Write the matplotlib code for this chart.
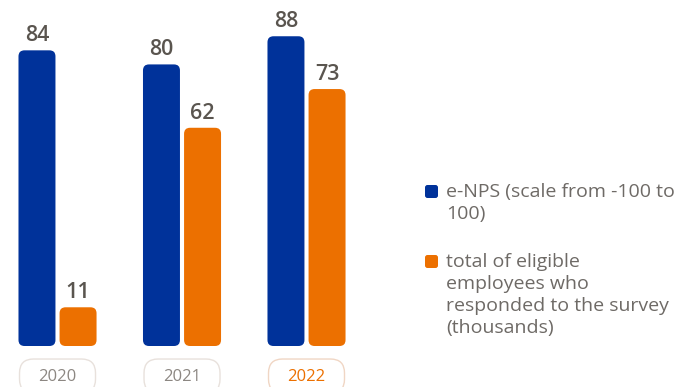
import matplotlib.pyplot as plt
from matplotlib.patches import FancyBboxPatch

years = ['2020', '2021', '2022']
enps = [84, 80, 88]
respondents = [11, 62, 73]
legend_labels = ['e-NPS (scale from -100 to\n100)',
                 'total of eligible\nemployees who\nresponded to the survey\n(thousands)']

BLUE = '#00329a'
ORANGE = '#ec7000'
DARK = '#5a554f'
GREY = '#6e6a66'
YEAR_GREY = '#8c8782'

plt.rcParams['font.family'] = ['Open Sans', 'DejaVu Sans']

W, H = 687, 387
fig = plt.figure(figsize=(W / 100, H / 100), dpi=100)
ax = fig.add_axes([0, 41 / H, 400 / W, 346 / H])
ax.set_xlim(-0.462, 2.751)
ax.set_ylim(0, 98.3)
ax.axis('off')

bar_w = 0.297
offset = 0.165
# px per data unit: x 124.5, y 3.52
aspect = 124.5 / 3.52


def rounded_bar(x, h, color):
    r = 6 / 124.5
    p = FancyBboxPatch((x - bar_w / 2, 0), bar_w, h,
                       boxstyle=f'round,pad=0,rounding_size={r}',
                       mutation_aspect=aspect, fc=color, ec='none')
    ax.add_patch(p)
    ax.text(x, h + 1.2, str(h), ha='center', va='bottom',
            fontsize=15.5, fontweight='semibold', color=DARK)


for i, year in enumerate(years):
    rounded_bar(i - offset, enps[i], BLUE)
    rounded_bar(i + offset, respondents[i], ORANGE)

    # year pill under each group
    last = i == len(years) - 1
    pill_w = 76 / 124.5
    pill = FancyBboxPatch((i - pill_w / 2, -13.4), pill_w, 9.7,
                          boxstyle=f'round,pad=0,rounding_size={14 / 124.5}',
                          mutation_aspect=aspect, fc='white',
                          ec='#f0d6c4' if last else '#e8e1dc', lw=1.0,
                          clip_on=False)
    ax.add_patch(pill)
    ax.text(i, -8.9, year, ha='center', va='center', fontsize=12,
            color=ORANGE if last else YEAR_GREY, clip_on=False)

# legend drawn by hand so the square sits on the first text line
for color, label, sq_top in zip([BLUE, ORANGE], legend_labels, [185, 255]):
    sq = FancyBboxPatch((425 / W, 1 - (sq_top + 13) / H), 13 / W, 13 / H,
                        boxstyle=f'round,pad=0,rounding_size={2.5 / W}',
                        mutation_aspect=W / H, fc=color, ec='none',
                        transform=fig.transFigure)
    fig.add_artist(sq)
    fig.text(446 / W, 1 - (sq_top - 2) / H, label, ha='left', va='top',
             fontsize=14, color=GREY, linespacing=1.28)

fig.savefig('out.png', dpi=100)
